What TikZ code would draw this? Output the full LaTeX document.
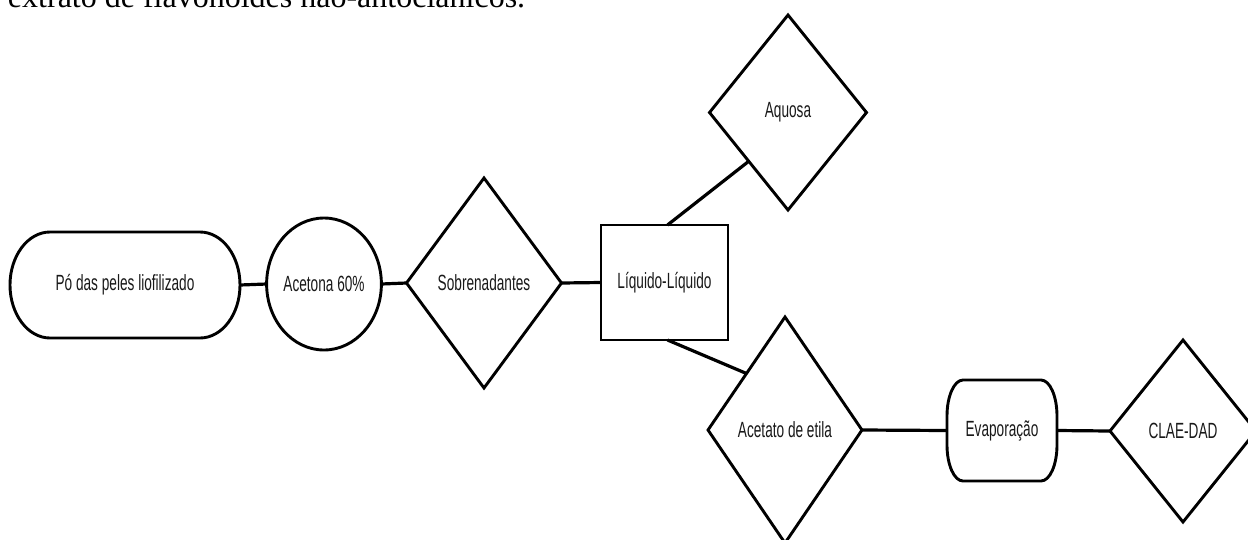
\documentclass[tikz,border=0pt]{standalone}
\usepackage{fontspec}
\setmainfont{Liberation Serif}
\newfontfamily\flowfont[FakeStretch=0.62]{Liberation Sans}
\usetikzlibrary{shapes.geometric}

% outline of a box whose corners are quarter ellipses: node, x radius, y radius
\newcommand\flowpill[3]{%
  \draw[outline] ([xshift=#2]#1.north west) -- ([xshift=-#2]#1.north east)
    arc[start angle=90, end angle=0, x radius=#2, y radius=#3]
    -- ([yshift=#3]#1.south east)
    arc[start angle=0, end angle=-90, x radius=#2, y radius=#3]
    -- ([xshift=#2]#1.south west)
    arc[start angle=270, end angle=180, x radius=#2, y radius=#3]
    -- ([yshift=-#3]#1.north west)
    arc[start angle=180, end angle=90, x radius=#2, y radius=#3] -- cycle;}

\tikzset{
  every node/.style={inner sep=0pt, outer sep=0pt},
  lbl/.style={font=\flowfont\fontsize{22}{26}\selectfont, text=black!90},
  outline/.style={draw=black, line width=2.9pt},
  link/.style={draw=black, line width=3.2pt},
  decision/.style={lbl, outline, diamond},
}

\begin{document}
\begin{tikzpicture}[x=1pt, y=-1pt]
\useasboundingbox (0,0) rectangle (1248,539);
\clip (0,0) rectangle (1248,539);

% running text above the chart
\node[anchor=base west, font=\fontsize{32}{38}\selectfont] (caption) at (8,7)
  {extrato de flavonoides não-antociânicos.};

% stages
\node[lbl, minimum width=230pt, minimum height=106pt] (po) at (125,285) {Pó das peles liofilizado};
\flowpill{po}{40pt}{53pt}
\node[lbl, outline, ellipse, minimum width=112pt, minimum height=132pt] (acet) at (324,284) {Acetona 60\%};
\node[decision, minimum width=155pt, minimum height=210pt] (sob) at (484,283) {Sobrenadantes};
\node[lbl, outline, rectangle, minimum width=127pt, minimum height=115pt] (ll) at (664.5,282.5) {Líquido-Líquido};
\node[decision, minimum width=157pt, minimum height=195pt] (aq) at (788,112.5) {Aquosa};
\node[decision, minimum width=154pt, minimum height=226pt] (ae) at (785,430) {Acetato de etila};
\node[lbl, minimum width=110pt, minimum height=101pt] (ev) at (1002,430.5) {Evaporação};
\flowpill{ev}{16pt}{36pt}
\node[decision, minimum width=146pt, minimum height=182pt] (clae) at (1183,431) {CLAE-DAD};

% connections
\draw[link] (po.east) -- (acet.west);
\draw[link] (acet.east) -- (sob.west);
\draw[link] (sob.east) -- (ll.west);
\draw[link] ([xshift=3pt]ll.north) -- (aq.south west);
\draw[link] ([xshift=3pt]ll.south) -- (ae.north west);
\draw[link] (ae.east) -- (ev.west);
\draw[link] (ev.east) -- (clae.west);
\end{tikzpicture}
\end{document}
